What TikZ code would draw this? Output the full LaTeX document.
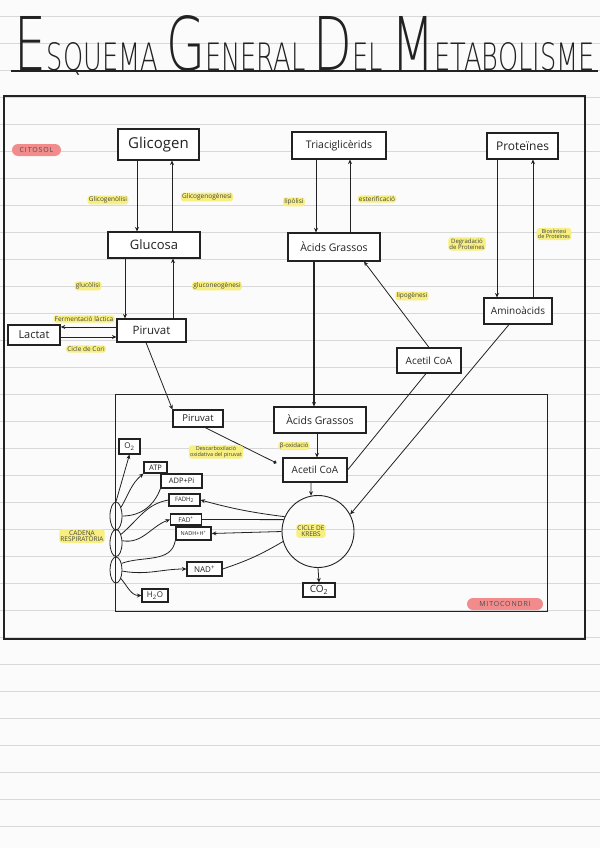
\documentclass[tikz,border=0pt]{standalone}
\usepackage{fontspec}
\usepackage{tikz}
\usetikzlibrary{arrows.meta,shapes.geometric}
\setmainfont{Open Sans}
\newfontfamily\titolfont{DejaVuSans-ExtraLight}[Extension=.ttf]
\definecolor{tinta}{HTML}{222222}
\definecolor{groc}{HTML}{F7EF80}
\definecolor{rosa}{HTML}{F28B8B}
\definecolor{ratlla}{HTML}{D8D8D8}
\definecolor{paper}{HTML}{FBFBFB}
\newcommand{\mida}[1]{\fontsize{#1}{#1}\selectfont}
\newcommand{\gran}[1]{{\fontsize{55}{55}\selectfont #1}}
\tikzstyle{caixa} = [draw=tinta, line width=1.1pt, fill=white, inner sep=0pt, text=tinta]
\tikzstyle{marcador} = [fill=groc, rounded corners=3pt, inner sep=1.2pt, text=tinta!85, align=center, font=\mida{6.5}]
\tikzstyle{zona} = [fill=rosa, rounded corners=6pt, inner sep=0pt, text=tinta!80, font=\mida{7}\addfontfeature{LetterSpace=12}]
\tikzstyle{fletxa} = [draw=tinta, line width=0.8pt, -{Stealth[length=4.5pt,width=4pt]}]
\tikzstyle{linia} = [draw=tinta, line width=0.8pt]
\tikzstyle{cadena} = [draw=tinta, line width=0.8pt, ellipse, minimum width=12pt, minimum height=28pt, inner sep=0pt]

\begin{document}
\begin{tikzpicture}[x=1pt, y=1pt]
		\useasboundingbox (0,0) rectangle (600,-848);
		\fill[paper] (0,0) rectangle (600,-848);
		\foreach \k in {0,...,30}
			\draw[ratlla, line width=0.8pt] (0,-16-27*\k) -- (600,-16-27*\k);

		\node[anchor=base, inner sep=0pt, text=tinta] (titol) at (305,-71)
			{\resizebox{580pt}{55pt}{\titolfont\fontsize{28}{28}\selectfont\gran{E}SQUEMA \gran{G}ENERAL \gran{D}EL \gran{M}ETABOLISME}};
		\draw[tinta, line width=1.2pt] (11,-71) -- (598,-71);

		\draw[tinta, line width=1.3pt] (4,-96) rectangle (585,-639);
		\draw[tinta, line width=1pt] (115,-394) rectangle (547,-611);
		\node[zona, minimum width=49pt, minimum height=12pt] (citosol) at (36.5,-150) {CITOSOL};
		\node[zona, minimum width=76pt, minimum height=12pt] (mitocondri) at (505,-604) {MITOCONDRI};

		\node[caixa, minimum width=81pt, minimum height=31pt, font=\mida{15}] (glicogen) at (158.5,-144.5) {Glicogen};
		\node[caixa, minimum width=92pt, minimum height=26pt, font=\mida{13}] (glucosa) at (154,-245) {Glucosa};
		\node[caixa, minimum width=69pt, minimum height=23pt, font=\mida{11.5}] (piruvatc) at (151.5,-330.5) {Piruvat};
		\node[caixa, line width=1.6pt, minimum width=52pt, minimum height=20pt, font=\mida{11}] (lactat) at (34,-335) {Lactat};
		\node[caixa, minimum width=94pt, minimum height=27pt, font=\mida{10.5}] (triacil) at (339,-145.5) {Triaciglicèrids};
		\node[caixa, minimum width=71pt, minimum height=26pt, font=\mida{12}] (proteines) at (522.5,-146) {Proteïnes};
		\node[caixa, minimum width=92pt, minimum height=28pt, font=\mida{10.5}] (acidsc) at (334,-247) {Àcids Grassos};
		\node[caixa, minimum width=68pt, minimum height=26pt, font=\mida{10}] (aminoacids) at (518,-311) {Aminoàcids};
		\node[caixa, minimum width=64pt, minimum height=25pt, font=\mida{10}] (acetilc) at (429,-360.5) {Acetil CoA};

		\node[caixa, minimum width=50pt, minimum height=17pt, font=\mida{9.5}] (piruvatm) at (198,-418.5) {Piruvat};
		\node[caixa, minimum width=92pt, minimum height=26pt, font=\mida{10.5}] (acidsm) at (320,-420) {Àcids Grassos};
		\node[caixa, minimum width=64pt, minimum height=24pt, font=\mida{10}] (acetilm) at (315,-470) {Acetil CoA};
		\node[draw=tinta, line width=0.9pt, circle, minimum size=72pt, inner sep=0pt] (krebs) at (318,-531.5) {};
		\node[caixa, minimum width=32pt, minimum height=14pt, font=\mida{10}] (co2) at (319,-590) {CO\textsubscript{2}};

		\node[caixa, minimum width=21pt, minimum height=15pt, font=\mida{8}] (o2) at (129.5,-446.5) {O\textsubscript{2}};
		\node[caixa, minimum width=23pt, minimum height=11pt, font=\mida{7.5}] (atp) at (155.5,-467.5) {ATP};
		\node[caixa, minimum width=41pt, minimum height=14pt, font=\mida{7.5}] (adp) at (181.5,-481) {ADP+Pi};
		\node[caixa, minimum width=31pt, minimum height=12pt, font=\mida{6}] (fadh) at (184.5,-500) {FADH\textsubscript{2}};
		\node[caixa, minimum width=31pt, minimum height=11pt, font=\mida{6.5}] (fad) at (186,-519.5) {FAD\textsuperscript{+}};
		\node[caixa, line width=1.5pt, minimum width=35pt, minimum height=13pt, font=\mida{5.5}] (nadh) at (193.5,-533.5) {NADH+H\textsuperscript{+}};
		\node[caixa, minimum width=35pt, minimum height=14pt, font=\mida{8}] (nad) at (204.5,-569) {NAD\textsuperscript{+}};
		\node[caixa, minimum width=26pt, minimum height=13pt, font=\mida{8}] (h2o) at (155,-595.5) {H\textsubscript{2}O};

		\node[cadena] (e1) at (116,-516) {};
		\node[cadena, minimum height=27pt] (e2) at (116,-543) {};
		\node[cadena, minimum height=26pt] (e3) at (116,-570) {};

		\draw[fletxa] ([xshift=-21.5pt]glicogen.south) -- ([xshift=-17pt]glucosa.north);
		\draw[fletxa] ([xshift=18pt]glucosa.north) -- ([xshift=13.5pt]glicogen.south);
		\draw[fletxa] ([xshift=-29pt]glucosa.south) -- ([xshift=-26.5pt]piruvatc.north);
		\draw[fletxa] ([xshift=21.5pt]piruvatc.north) -- ([xshift=19pt]glucosa.south);
		\draw[fletxa] ([yshift=3.5pt]piruvatc.west) -- ([yshift=8pt]lactat.east);
		\draw[fletxa] ([yshift=-2pt]lactat.east) -- ([yshift=-6.5pt]piruvatc.west);
		\draw[fletxa] ([xshift=-5.5pt]piruvatc.south) -- (piruvatm.north west);
		\draw[linia, -{Circle[length=3.5pt]}] ([xshift=7pt]piruvatm.south) -- ([xshift=-6pt,yshift=7pt]acetilm.west);

		\draw[fletxa] ([xshift=-23pt]triacil.south) -- ([xshift=-18pt]acidsc.north);
		\draw[fletxa] ([xshift=16pt]acidsc.north) -- ([xshift=11pt]triacil.south);
		\draw[fletxa] ([xshift=-25.5pt]proteines.south) -- ([xshift=-21pt]aminoacids.north);
		\draw[fletxa] ([xshift=15pt]aminoacids.north) -- ([xshift=10.5pt]proteines.south);
		\draw[fletxa] (acetilc.north) -- ([xshift=30pt]acidsc.south);
		\draw[fletxa, line width=1.4pt] ([xshift=-20pt]acidsc.south) -- ([xshift=-6pt]acidsm.north);
		\draw[linia] (acetilm.east) -- ([xshift=-3pt]acetilc.south);
		\draw[fletxa] ([xshift=-9pt]aminoacids.south) -- (krebs.28);

		\draw[fletxa] ([xshift=-3pt]acidsm.south) -- ([xshift=2pt]acetilm.north);
		\draw[fletxa] ([xshift=-4pt]acetilm.south) -- (krebs.101);
		\draw[fletxa] (krebs.south) -- (co2.north);
		\draw[fletxa] (krebs.156) to[bend left=4] (fadh.east);
		\draw[linia] (fad.east) -- (krebs.161);
		\draw[fletxa] (krebs.180) -- (nadh.east);
		\draw[linia] (nad.east) to[bend right=6] (krebs.196);

		\draw[fletxa] (e1.north) -- (o2.south);
		\draw[fletxa] (e1.60) to[out=60,in=220] (atp.south west);
		\draw[linia] (adp.south west) to[out=-110,in=0] (e1.east);
		\draw[linia] (fadh.west) to[out=190,in=40] (e2.60);
		\draw[fletxa] (e2.20) to[out=-10,in=200] (fad.west);
		\draw[linia] (nadh.south west) to[out=-100,in=20] (e3.50);
		\draw[fletxa] (e3.-10) to[out=-10,in=180] (nad.west);
		\draw[fletxa] (e3.-60) to[out=-50,in=180] (h2o.west);

		\node[marcador] (glicogenolisi) at (108,-200) {Glicogenòlisi};
		\node[marcador] (glicogenogenesi) at (207,-197) {Glicogenogènesi};
		\node[marcador] (lipolisi) at (294,-202) {lipòlisi};
		\node[marcador] (esterificacio) at (377,-199) {esterificació};
		\node[marcador] (glucolisi) at (88,-286) {glucòlisi};
		\node[marcador] (gluconeo) at (217,-286) {gluconeogènesi};
		\node[marcador] (fermentacio) at (84,-319) {Fermentació làctica};
		\node[marcador] (cori) at (86,-349) {Cicle de Cori};
		\node[marcador, font=\mida{6}] (degradacio) at (467,-244) {Degradació\\de Proteïnes};
		\node[marcador, font=\mida{5.5}] (biosintesi) at (554,-234) {Biosíntesi\\de Proteïnes};
		\node[marcador] (lipogenesi) at (412,-296) {lipogènesi};
		\node[marcador, font=\mida{5.5}] (descarboxilacio) at (216,-452) {Descarboxilació\\oxidativa del piruvat};
		\node[marcador, font=\mida{6}] (betaox) at (294,-446) {β-oxidació};
		\node[marcador, font=\mida{6.5}] (ekrebs) at (311,-531) {CICLE DE\\KREBS};
		\node[marcador] (ecadena) at (82,-536) {CADENA\\RESPIRATÒRIA};
	\end{tikzpicture}
\end{document}
